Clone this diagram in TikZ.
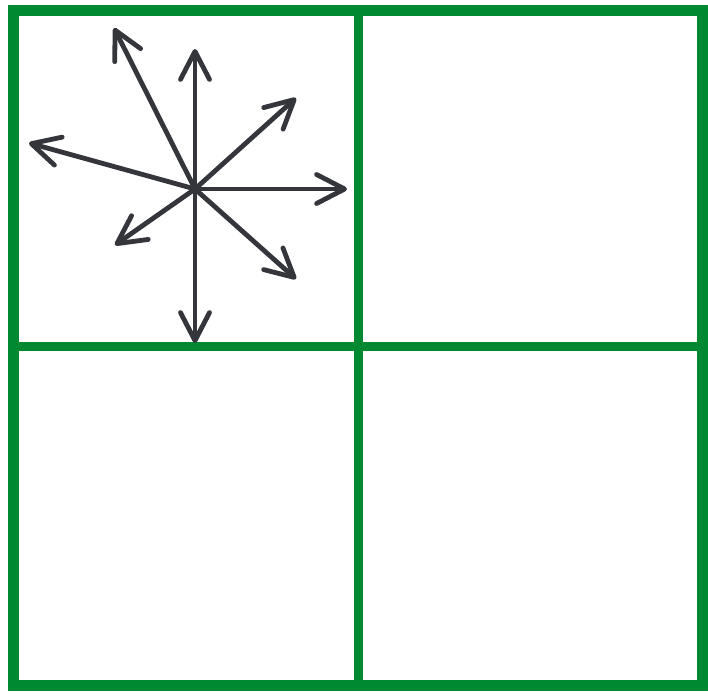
\documentclass[tikz,border=0pt]{standalone}
\usepackage{tikz}
\usetikzlibrary{arrows.meta}
\definecolor{cGrid}{RGB}{0,137,48}
\definecolor{cArr}{RGB}{52,54,60}

\begin{document}
\begin{tikzpicture}[x=0.5pt,y=-0.5pt,
    gridline/.style={cGrid,line width=4.5pt},
    ray/.style={cArr,line width=2.4pt,line cap=round,
      -{Straight Barb[length=14pt,width=14.5pt,round]}}]
  \useasboundingbox (0,0) rectangle (708,696);
  % the four cells
  \draw[cGrid,line width=5.5pt] (13,10) rectangle (702,685);
  \draw[gridline] (358.5,10) -- (358.5,685);
  \draw[gridline] (13,346.5) -- (702,346.5);
  % rays out of one point
  \coordinate (o) at (195,189);
  \foreach \n/\x/\y in {n/195/49, nw/114/28, w/29/143, ne/296/98,
                        e/347/189, se/296/279, sw/115/245, s/195/343}
  {
    \coordinate (\n) at (\x,\y);
    \draw[ray] (o) -- (\n);
  }
\end{tikzpicture}
\end{document}
